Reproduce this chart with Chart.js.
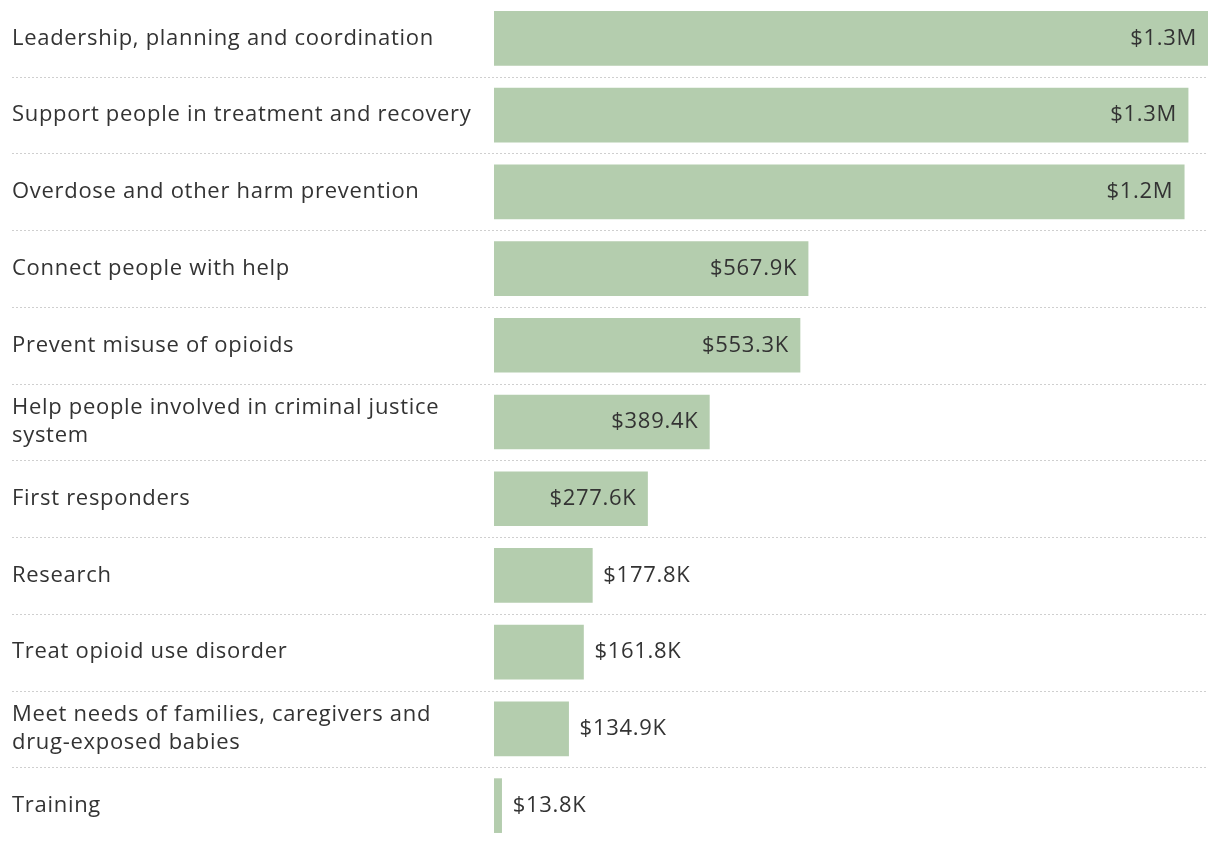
<!DOCTYPE html>
<html>
<head>
<meta charset="utf-8">
<script src="https://cdn.jsdelivr.net/npm/chart.js@4"></script>
<style>
  html, body { margin: 0; padding: 0; background: #fff; }
  #wrap { position: relative; width: 1220px; height: 846px; }
</style>
</head>
<body>
<div id="wrap"><canvas id="myChart"></canvas></div>
<script>
// категории (подписи слева)
const categories = [
  'Leadership, planning and coordination',
  'Support people in treatment and recovery',
  'Overdose and other harm prevention',
  'Connect people with help',
  'Prevent misuse of opioids',
  ['Help people involved in criminal justice', 'system'],
  'First responders',
  'Research',
  'Treat opioid use disorder',
  ['Meet needs of families, caregivers and', 'drug-exposed babies'],
  'Training'
];

// суммы в долларах
const amounts = [1291000, 1255000, 1248000, 567900, 553300, 389400, 277600, 177800, 161800, 134900, 13800];

// подписи значений
const amountLabels = ['$1.3M', '$1.3M', '$1.2M', '$567.9K', '$553.3K', '$389.4K', '$277.6K', '$177.8K', '$161.8K', '$134.9K', '$13.8K'];

const FONT = { family: '"Open Sans", Roboto, sans-serif', size: 22 };
const TEXT_COLOR = '#333333';

// чуть разрядить буквы, шрифт в оригинале шире
const spacingPlugin = {
  id: 'spacing',
  beforeDraw(chart) {
    chart.ctx.letterSpacing = '0.7px';
  }
};

// пунктирные линии между строками
const separatorPlugin = {
  id: 'separators',
  beforeDatasetsDraw(chart) {
    const y = chart.scales.y;
    const c = chart.ctx;
    c.save();
    c.strokeStyle = '#cfcfcf';
    c.lineWidth = 1;
    c.setLineDash([2, 2]);
    for (let i = 0; i < categories.length - 1; i++) {
      const py = Math.round((y.getPixelForValue(i) + y.getPixelForValue(i + 1)) / 2) + 0.5;
      c.beginPath();
      c.moveTo(12, py);
      c.lineTo(chart.chartArea.right, py);
      c.stroke();
    }
    c.restore();
  }
};

// подписи на столбцах: внутри если влезает, иначе справа
const valueLabelPlugin = {
  id: 'valueLabels',
  afterDatasetsDraw(chart) {
    const c = chart.ctx;
    const meta = chart.getDatasetMeta(0);
    c.save();
    c.font = FONT.size + 'px ' + FONT.family;
    c.fillStyle = TEXT_COLOR;
    c.textBaseline = 'middle';
    meta.data.forEach((bar, i) => {
      const text = amountLabels[i];
      const w = c.measureText(text).width;
      const barWidth = bar.x - bar.base;
      if (w + 22 < barWidth) {
        c.textAlign = 'right';
        c.fillText(text, bar.x - 11, bar.y);
      } else {
        c.textAlign = 'left';
        c.fillText(text, bar.x + 11, bar.y);
      }
    });
    c.restore();
  }
};

const ctx = document.getElementById('myChart').getContext('2d');
const myChart = new Chart(ctx, {
  type: 'bar',
  data: {
    labels: categories,
    datasets: [{
      data: amounts,
      backgroundColor: '#b4cdae',
      borderWidth: 0,
      barThickness: 54
    }]
  },
  options: {
    indexAxis: 'y',
    responsive: true,
    maintainAspectRatio: false,
    animation: false,
    layout: { padding: { left: 12, right: 12, top: 0, bottom: 2 } },
    plugins: {
      legend: { display: false },
      tooltip: { enabled: false }
    },
    scales: {
      x: {
        display: false,
        min: 0,
        max: amounts[0]
      },
      y: {
        grid: { display: false },
        border: { display: false },
        afterFit(scale) {
          scale.width = 482;
          scale.paddingTop = 0;
          scale.paddingBottom = 0;
        },
        ticks: {
          autoSkip: false,
          crossAlign: 'far',
          color: TEXT_COLOR,
          font: { family: FONT.family, size: FONT.size, lineHeight: 1.27 }
        }
      }
    }
  },
  plugins: [spacingPlugin, separatorPlugin, valueLabelPlugin]
});
</script>
</body>
</html>
